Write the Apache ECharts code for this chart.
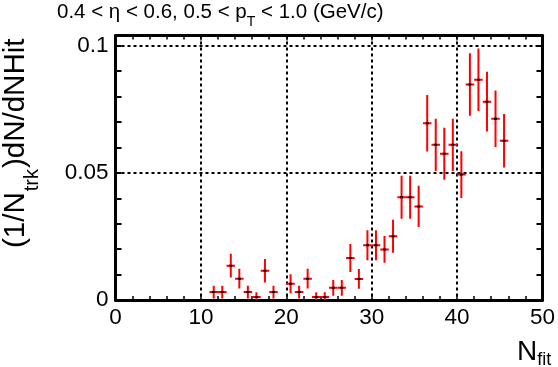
<!DOCTYPE html>
<html>
<head>
<meta charset="utf-8">
<script src="https://cdn.jsdelivr.net/npm/echarts@6/dist/echarts.min.js"></script>
<style>html,body{margin:0;padding:0;background:#fff;}#c{width:558px;height:367px;}</style>
</head>
<body>
<div id="c"></div>
<script>
// ---- data (bin centres, values, errors) ----
const binCenters = [11.5,12.5,13.5,14.5,15.5,16.5,17.5,18.5,20.5,21.5,22.5,23.5,24.5,25.5,26.5,27.5,28.5,29.5,30.5,31.5,32.5,33.5,34.5,35.5,36.5,37.5,38.5,39.5,40.5,41.5,42.5,43.5,44.5,45.5];
const values = [0.0031,0.0031,0.0135,0.0084,0.0031,0.0012,0.0115,0.0031,0.0064,0.0031,0.0084,0.0012,0.0012,0.0048,0.0048,0.0165,0.0083,0.0215,0.0215,0.0199,0.0251,0.0404,0.0404,0.0368,0.0695,0.0610,0.0575,0.0610,0.0493,0.0847,0.0866,0.0780,0.0713,0.0626];
const errors = [0.0025,0.0025,0.0047,0.0039,0.0025,0.0018,0.0046,0.0025,0.0037,0.0025,0.0039,0.0018,0.0018,0.0031,0.0031,0.0055,0.0039,0.0059,0.0059,0.0053,0.0065,0.0085,0.0085,0.0081,0.0111,0.0103,0.0102,0.0103,0.0092,0.0123,0.0123,0.0117,0.0111,0.0105];
const binWidth = 1;
const xTickLabels = ['0','10','20','30','40','50'];
const yTickValues = [0, 0.05, 0.1];
const yTickLabels = ['0','0.05','0.1'];
const titleParts = [['0.4 < η < 0.6, 0.5 < p', 0], ['T', 1], [' < 1.0 (GeV/c)', 0]];
const yTitleParts = [['(1/N', 0], ['trk', 1], [')dN/dNHit', 0]];
const xTitleParts = [['N', 0], ['fit', 1]];

const FONT = 'Liberation Sans, Arial, Helvetica, sans-serif';
const ctx = document.createElement('canvas').getContext('2d');
function measure(t, size) { ctx.font = size + 'px ' + FONT; return ctx.measureText(t).width; }
// pos = baseline start point of the main text
function textGroup(parts, mainSize, subSize, subDrop, gap, pos, rotation) {
  let x = 0; const children = [];
  parts.forEach(([t, isSub]) => {
    const size = isSub ? subSize : mainSize;
    if (isSub) x += gap;
    children.push({type:'text', x: x, y: (isSub ? subDrop : 0) - 0.81 * size,
      style:{text:t, fontSize:size, fontFamily:FONT, fill:'#000', verticalAlign:'top', align:'left'}});
    x += measure(t, size);
    if (isSub) x += gap;
  });
  return {type:'group', x: pos[0], y: pos[1], rotation: rotation || 0, children};
}

const chart = echarts.init(document.getElementById('c'), null, {renderer:'canvas'});
const data = binCenters.map((x, i) => [x, values[i], errors[i]]);
const frameLine = {onZero:false, lineStyle:{color:'#000', width:3}};
const option = {
  animation:false,
  backgroundColor:'#fff',
  grid:{left:115.5, right:14, top:35.5, bottom:67},
  xAxis:[
    {type:'value', min:0, max:50, interval:10, position:'bottom',
     axisLine:frameLine,
     axisTick:{inside:true, length:5, lineStyle:{color:'#000', width:1.5}},
     minorTick:{show:true, splitNumber:5, length:4, lineStyle:{color:'#000', width:1.5}},
     splitLine:{show:true, lineStyle:{color:'#000', width:2, type:[3,3]}},
     axisLabel:{fontSize:22.5, color:'#000', fontFamily:FONT, margin:6,
       formatter:(v)=>{const i=Math.round(v/10); return (Math.abs(v-i*10)<1e-9 && xTickLabels[i]!==undefined)?xTickLabels[i]:'';}}},
    {type:'value', min:0, max:50, interval:10, position:'top',
     axisLine:frameLine,
     axisTick:{inside:true, length:5, lineStyle:{color:'#000', width:1.5}},
     minorTick:{show:true, splitNumber:5, length:4, lineStyle:{color:'#000', width:1.5}},
     splitLine:{show:false}, axisLabel:{show:false}}
  ],
  yAxis:[
    {type:'value', min:0, max:0.104, interval:0.01, position:'left',
     axisLine:frameLine,
     axisTick:{inside:true, length:6, lineStyle:{color:'#000', width:2}},
     splitLine:{show:false},
     axisLabel:{fontSize:22.5, color:'#000', fontFamily:FONT, margin:7, showMaxLabel:false,
       formatter:(v)=>{for(let i=0;i<yTickValues.length;i++){if(Math.abs(v-yTickValues[i])<1e-9) return yTickLabels[i];} return '';}}},
    {type:'value', min:0, max:0.104, interval:0.01, position:'right',
     axisLine:frameLine,
     axisTick:{inside:true, length:6, lineStyle:{color:'#000', width:2}},
     splitLine:{show:false}, axisLabel:{show:false}},
    {type:'value', min:0, max:0.104, interval:0.05, position:'left',
     axisLine:{show:false, onZero:false}, axisTick:{show:false}, axisLabel:{show:false},
     splitLine:{show:true, lineStyle:{color:'#000', width:2, type:[3,3]}}}
  ],
  series:[{
    type:'custom', xAxisIndex:0, yAxisIndex:0, clip:true, data:data,
    renderItem:function(params, api){
      const x = api.value(0), y = api.value(1), e = api.value(2);
      const c = api.coord([x, y]);
      const l = api.coord([x - binWidth/2, y]);
      const r = api.coord([x + binWidth/2, y]);
      const t = api.coord([x, y + e]);
      const b = api.coord([x, Math.max(0, y - e)]);
      return {type:'group', children:[
        {type:'line', shape:{x1:c[0], y1:t[1], x2:c[0], y2:b[1]}, style:{stroke:'#ff0000', lineWidth:2}},
        {type:'line', shape:{x1:l[0], y1:c[1], x2:r[0], y2:c[1]}, style:{stroke:'#ff0000', lineWidth:2}},
        {type:'rect', shape:{x:c[0]-1.5, y:c[1]-1, width:3, height:2}, style:{fill:'#000'}}
      ]};
    }
  }],
  graphic:[
    textGroup(titleParts, 20.5, 14, 8, 0, [57, 18], 0),
    textGroup(yTitleParts, 29.5, 20, 14.5, 1, [24.5, 248], Math.PI/2),
    textGroup(xTitleParts, 28, 18, 5, 0, [517, 361], 0)
  ]
};
chart.setOption(option);
</script>
</body>
</html>
